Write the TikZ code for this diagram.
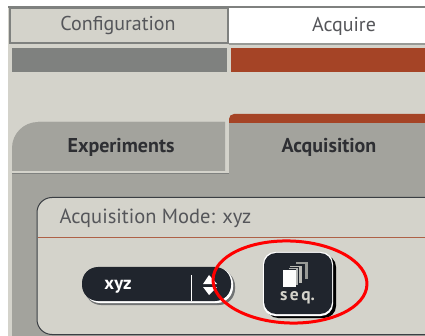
\documentclass[tikz,border=0pt]{standalone}
\usepackage{fontspec}
\setmainfont{PT Sans}
\definecolor{bgc}{HTML}{D4D3CB}
\definecolor{tabg}{HTML}{A3A39D}
\definecolor{edgeg}{HTML}{7F817F}
\definecolor{rust}{HTML}{A54426}
\definecolor{darkb}{HTML}{20252D}
\definecolor{txtg}{HTML}{55565A}
\definecolor{txtd}{HTML}{2E2F33}
\tikzset{
  toplabel/.style={text=txtg,font=\fontsize{20}{22}\selectfont},
  tablabel/.style={text=txtd,font=\bfseries\fontsize{20}{22}\selectfont},
  whitelabel/.style={text=white,font=\bfseries\fontsize{18.5}{20}\selectfont}
}
\begin{document}
\begin{tikzpicture}[x=1pt,y=-1pt]
\useasboundingbox (0,0) rectangle (425,336);
\fill[white] (0,0) rectangle (425,336);
\fill[bgc] (8,6) rectangle (425,336);
% top tabs
\fill[edgeg] (8,6) rectangle (425,8);
\draw[edgeg,line width=2.5pt,fill=bgc] (10,8) rectangle (228,43);
\fill[white] (229,8) rectangle (425,43);
\fill[edgeg!70!bgc] (229,43) rectangle (425,45);
\node[toplabel] (config) at (118,26) {Configuration};
\node[toplabel] (acquire) at (344,26) {Acquire};
% strips
\fill[edgeg] (12,48) rectangle (227,72);
\fill[rust] (231,48) rectangle (425,72);
% lower tabs
\fill[rust,rounded corners=5pt] (229,130) -- (229,114) -- (440,114) -- (440,130) -- cycle;
\fill[bgc] (229,123) rectangle (425,131);
\fill[tabg,rounded corners=26pt] (12,350) -- (12,122) -- (225,122);
\fill[tabg] (38,122) rectangle (225,172) (12,172) rectangle (425,336);
\fill[tabg] (229,123) rectangle (425,172);
\fill[bgc] (12,171) rectangle (229,173);
\fill[edgeg] (12,173) rectangle (229,174);
\node[tablabel] (exp) at (121,147) {Experiments};
\node[tablabel] (acq) at (329,147) {Acquisition};
% panel
\draw[darkb!80!tabg,line width=1pt,fill=bgc,rounded corners=15pt] (440,197.5) -- (37,197.5) -- (37,334.5) -- (440,334.5);
\draw[rust!80!bgc,line width=1pt] (38,237.5) -- (425,237.5);
\node[anchor=west,inner sep=0pt,text=txtg,font=\fontsize{20.5}{22}\selectfont] (mode) at (59.5,218.5) {Acquisition Mode: xyz};
% selector
\fill[darkb!55!bgc,rounded corners=16pt] (85,270) rectangle (235,305);
\fill[white,rounded corners=16pt] (84,268) rectangle (233,303);
\fill[darkb,rounded corners=16pt] (82,267) rectangle (231,301);
\draw[white,line width=1pt] (191.5,275) -- (191.5,301);
\node[whitelabel] (xyz) at (118,286.5) {xyz};
\fill[white] (209,275) -- (217,284) -- (203,284) -- cycle;
\fill[white] (209,295) -- (217,287) -- (203,287) -- cycle;
% seq button
\fill[black,rounded corners=12pt] (266,255) rectangle (336,318);
\fill[white,rounded corners=12pt] (263,252) rectangle (333,316);
\fill[darkb,rounded corners=12pt] (264,253) rectangle (332,314);
\fill[edgeg!70!bgc] (296,262) rectangle (308,279);
\fill[darkb] (293,264) rectangle (305,284);
\fill[bgc!70!edgeg] (290,266) rectangle (302,283);
\fill[darkb] (287,267) rectangle (299,287);
\fill[edgeg!60!white] (289,268) rectangle (298,285);
\fill[darkb] (281,269) rectangle (296,288);
\fill[white!95!bgc] (283,270) rectangle (296,287);
\node[text=bgc,font=\bfseries\fontsize{17.5}{19}\selectfont] (seq) at (297.5,298) {s\kern2.5pt e\kern2.5pt q.};
% red highlight
\draw[red,line width=3pt,rotate around={-2:(290,282)}] (290,282) ellipse[x radius=77,y radius=41];
\end{tikzpicture}
\end{document}
